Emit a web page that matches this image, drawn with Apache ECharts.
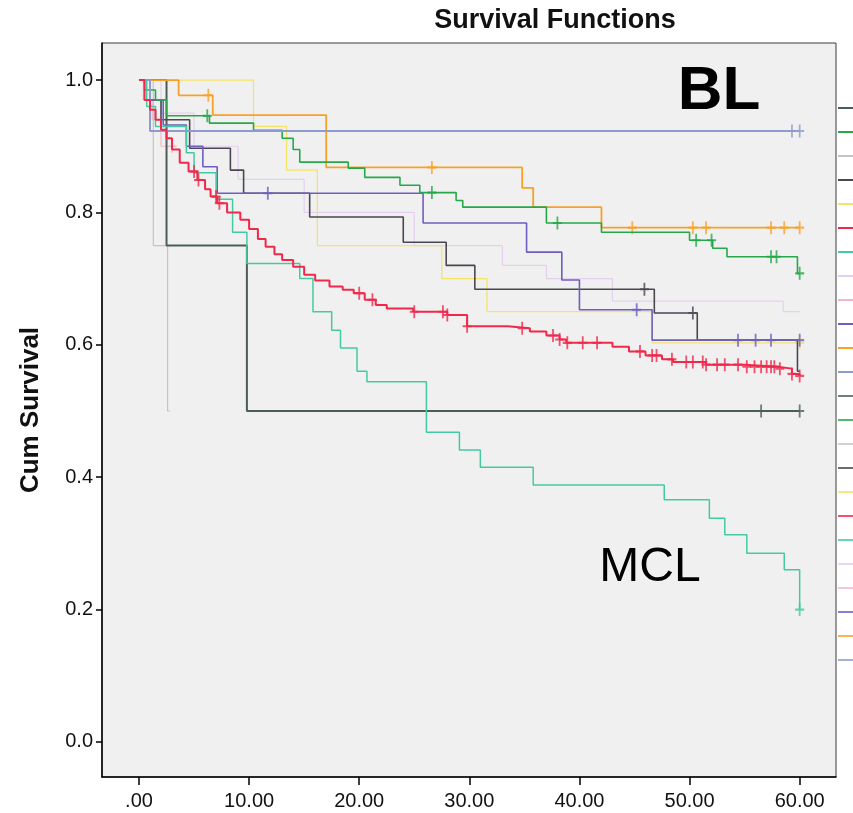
<!DOCTYPE html>
<html>
<head>
<meta charset="utf-8">
<title>Survival Functions</title>
<script src="https://cdn.jsdelivr.net/npm/echarts@6/dist/echarts.min.js"></script>
<style>
  html, body { margin: 0; padding: 0; background: #fff; }
  #chart { width: 853px; height: 813px; }
</style>
</head>
<body>
<div id="chart"></div>
<script>
// axis ticks
const timeTicks = [0, 10, 20, 30, 40, 50, 60];
const survTicks = [0, 0.2, 0.4, 0.6, 0.8, 1.0];

// Kaplan-Meier steps per subtype: time, survival after the step, censored times
const lblTime = [0, 2.5, 9.8, 60];
const lblSurv = [1, 0.75, 0.5, 0.5];
const lblCens = [56.5, 60];

const hlTime = [0, 0.5, 1.5, 2.5, 6.4, 10.4, 13.0, 14.0, 14.6, 19.0, 20.5, 23.7, 25.5, 28.8, 29.4, 37.0, 42.0, 50.0, 52.1, 53.4, 59.8, 60];
const hlSurv = [1, 0.985, 0.97, 0.946, 0.935, 0.924, 0.912, 0.895, 0.876, 0.867, 0.853, 0.841, 0.83, 0.818, 0.808, 0.784, 0.77, 0.758, 0.746, 0.733, 0.708, 0.708];
const hlCens = [6.2, 26.6, 38.0, 50.6, 52.0, 57.4, 57.9, 60];

const otherTime = [0, 1.3, 2.6, 2.8];
const otherSurv = [1, 0.75, 0.5, 0.5];
const otherCens = [];

const ptclTime = [0, 1.0, 2.0, 4.6, 8.3, 9.5, 15.5, 24.0, 27.9, 30.5, 46.8, 50.7, 59.8, 60];
const ptclSurv = [1, 0.97, 0.94, 0.897, 0.864, 0.829, 0.793, 0.755, 0.72, 0.684, 0.648, 0.607, 0.56, 0.56];
const ptclCens = [45.9, 50.3];

const mzlTime = [0, 10.4, 13.4, 16.2, 27.5, 31.6, 46.6, 60];
const mzlSurv = [1, 0.93, 0.864, 0.75, 0.70, 0.65, 0.603, 0.603];
const mzlCens = [60];

const dlbclTime = [0, 0.5, 1.0, 1.5, 2.0, 2.5, 3.0, 3.7, 4.5, 5.3, 6.0, 6.5, 7.1, 8.0, 9.2, 10.0, 10.8, 11.5, 12.3, 13.0, 14.0, 15.0, 16.0, 17.3, 18.5, 19.5, 20.5, 21.5, 22.5, 24.9, 28.0, 29.8, 33.5, 35.5, 37.0, 38.2, 38.8, 43.0, 44.5, 46.0, 47.5, 48.5, 51.5, 55.0, 58.0, 59.3, 60];
const dlbclSurv = [1, 0.97, 0.955, 0.94, 0.925, 0.912, 0.895, 0.875, 0.862, 0.849, 0.835, 0.824, 0.814, 0.80, 0.789, 0.775, 0.76, 0.748, 0.737, 0.728, 0.718, 0.706, 0.697, 0.688, 0.683, 0.678, 0.668, 0.66, 0.655, 0.65, 0.645, 0.628, 0.625, 0.62, 0.614, 0.608, 0.603, 0.597, 0.59, 0.584, 0.578, 0.574, 0.57, 0.567, 0.564, 0.556, 0.553];
const dlbclCens = [5.0, 5.4, 7.0, 7.3, 20.0, 21.2, 25.0, 27.6, 28.0, 29.8, 34.8, 37.6, 38.2, 38.9, 40.3, 41.6, 45.5, 46.6, 47.0, 48.4, 49.7, 50.3, 51.2, 51.5, 52.5, 53.2, 54.4, 55.2, 55.9, 56.5, 57.0, 57.4, 57.7, 58.2, 59.3, 60.0];

const mclTime = [0, 0.7, 1.5, 4.3, 5.0, 7.0, 8.5, 9.8, 14.6, 15.8, 17.5, 18.3, 19.8, 20.7, 26.1, 29.1, 31.0, 35.8, 47.7, 51.8, 53.2, 55.2, 58.6, 60];
const mclSurv = [1, 0.96, 0.93, 0.89, 0.86, 0.82, 0.77, 0.723, 0.70, 0.65, 0.622, 0.595, 0.56, 0.544, 0.468, 0.441, 0.415, 0.388, 0.366, 0.338, 0.313, 0.285, 0.26, 0.2];
const mclCens = [60];

const flTime = [0, 2.0, 5.0, 9.0, 15.0, 25.0, 33.0, 37.0, 43.0, 58.5, 60];
const flSurv = [1, 0.95, 0.9, 0.85, 0.8, 0.75, 0.72, 0.70, 0.666, 0.65, 0.65];
const flCens = [];

const sllTime = [0, 0.4, 1.2, 2.0, 3.0];
const sllSurv = [1, 0.97, 0.94, 0.9, 0.9];
const sllCens = [3.0];

const nktTime = [0, 1.0, 2.2, 4.3, 5.8, 7.1, 25.8, 35.2, 38.4, 40.0, 46.6, 60];
const nktSurv = [1, 0.97, 0.932, 0.90, 0.869, 0.829, 0.784, 0.74, 0.698, 0.653, 0.607, 0.607];
const nktCens = [11.7, 45.2, 54.4, 56.0, 57.4, 60];

const alclTime = [0, 3.6, 6.7, 17.0, 34.8, 35.8, 42.0, 60];
const alclSurv = [1, 0.977, 0.947, 0.868, 0.837, 0.808, 0.777, 0.777];
const alclCens = [6.3, 26.6, 44.8, 50.3, 51.5, 57.4, 58.6, 60];

const blTime = [0, 1.0, 60];
const blSurv = [1, 0.923, 0.923];
const blCens = [59.3, 60];

// legend order (lines first, then censored markers)
const groups = [
  { name: 'LBL', t: lblTime, s: lblSurv, c: lblCens, color: '#4a5e56', w: 2 },
  { name: 'HL', t: hlTime, s: hlSurv, c: hlCens, color: '#26a84a', w: 1.6 },
  { name: 'Other', t: otherTime, s: otherSurv, c: otherCens, color: '#c4c4c4', w: 1.2 },
  { name: 'PTCL', t: ptclTime, s: ptclSurv, c: ptclCens, color: '#4b4651', w: 1.6 },
  { name: 'MZL', t: mzlTime, s: mzlSurv, c: mzlCens, color: '#f3e466', w: 1.2 },
  { name: 'DLBCL', t: dlbclTime, s: dlbclSurv, c: dlbclCens, color: '#f0284c', w: 2 },
  { name: 'MCL', t: mclTime, s: mclSurv, c: mclCens, color: '#45c9a5', w: 1.5 },
  { name: 'FL', t: flTime, s: flSurv, c: flCens, color: '#e4d0ee', w: 1.2 },
  { name: 'SLL', t: sllTime, s: sllSurv, c: sllCens, color: '#f2b8c8', w: 1.2 },
  { name: 'NK/T', t: nktTime, s: nktSurv, c: nktCens, color: '#6c5fbf', w: 1.6 },
  { name: 'ALCL', t: alclTime, s: alclSurv, c: alclCens, color: '#f7a128', w: 1.8 },
  { name: 'BL', t: blTime, s: blSurv, c: blCens, color: '#8e9ccd', w: 2 }
];

function survAt(times, surv, x) {
  let v = surv[0];
  for (let i = 0; i < times.length; i++) if (times[i] <= x) v = surv[i];
  return v;
}

const plus = 'path://M4,0H6V5H10V7H6V12H4V7H0V5H4Z';
const drawOrder = ['Other', 'FL', 'SLL', 'MZL', 'LBL', 'PTCL', 'NK/T', 'ALCL', 'HL', 'BL', 'MCL', 'DLBCL'];

const series = [];
groups.forEach(g => {
  const z = 2 + drawOrder.indexOf(g.name);
  series.push({
    name: g.name, type: 'line', step: 'end', showSymbol: false, silent: true,
    color: g.color, z: z,
    lineStyle: { color: g.color, width: g.w },
    data: g.t.map((t, i) => [t, g.s[i]])
  });
});
groups.forEach(g => {
  const z = 2 + drawOrder.indexOf(g.name);
  series.push({
    name: g.name + '-censored', type: 'scatter', symbol: plus, symbolSize: [9, 13], silent: true,
    color: g.color, z: z,
    itemStyle: { color: g.color },
    data: g.c.map(t => [t, survAt(g.t, g.s, t)])
  });
});

const font = 'Liberation Sans, Arial, sans-serif';
const chart = echarts.init(document.getElementById('chart'));
chart.setOption({
  animation: false,
  backgroundColor: '#ffffff',
  grid: {
    left: 102, right: 17, top: 43, bottom: 36,
    show: true, backgroundColor: '#f0f0f0', borderColor: '#3a3a3a', borderWidth: 1
  },
  legend: {
    orient: 'vertical', left: 838, top: 101, itemGap: 10, padding: 0,
    icon: 'rect', itemWidth: 25, itemHeight: 2,
    textStyle: { fontSize: 12, lineHeight: 14, fontFamily: font },
    data: series.map(s => s.name)
  },
  xAxis: {
    type: 'value', min: -3.36, max: 63.3,
    splitLine: { show: false },
    axisLine: { onZero: false, lineStyle: { color: '#000', width: 1.5 } },
    axisTick: { customValues: timeTicks, length: 8, lineStyle: { color: '#000', width: 1.5 } },
    axisLabel: {
      customValues: timeTicks, margin: 14, color: '#111', fontSize: 20, fontFamily: font,
      formatter: v => (v === 0 ? '.00' : v.toFixed(2))
    }
  },
  yAxis: {
    type: 'value', min: -0.053, max: 1.056,
    name: 'Cum Survival', nameLocation: 'middle', nameGap: 58, nameRotate: 90,
    nameTextStyle: { fontSize: 26, fontWeight: 'bold', color: '#111', fontFamily: font },
    splitLine: { show: false },
    axisLine: { show: true, onZero: false, lineStyle: { color: '#000', width: 1.5 } },
    axisTick: { show: true, customValues: survTicks, length: 6, lineStyle: { color: '#000', width: 1.5 } },
    axisLabel: {
      customValues: survTicks, margin: 9, color: '#111', fontSize: 20, fontFamily: font,
      formatter: v => v.toFixed(1)
    }
  },
  graphic: [
    { type: 'text', silent: true, style: { x: 555, y: 21, text: 'Survival Functions', textAlign: 'center', textVerticalAlign: 'middle', font: 'bold 27px ' + font, fill: '#111' } },
    { type: 'text', silent: true, z: 100, style: { x: 719, y: 92, text: 'BL', textAlign: 'center', textVerticalAlign: 'middle', font: 'bold 62px ' + font, fill: '#000' } },
    { type: 'text', silent: true, z: 100, style: { x: 650, y: 568, text: 'MCL', textAlign: 'center', textVerticalAlign: 'middle', font: '48px ' + font, fill: '#000' } }
  ],
  series: series
});
</script>
</body>
</html>
